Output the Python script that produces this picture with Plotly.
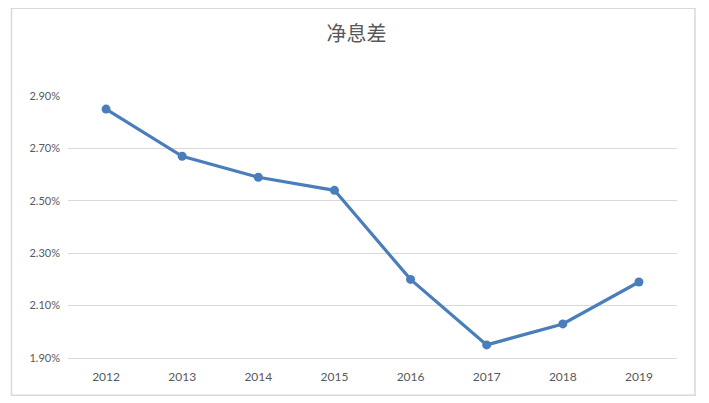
"""Net interest margin line chart, 2012-2019."""

import plotly.graph_objects as go

years = ["2012", "2013", "2014", "2015", "2016", "2017", "2018", "2019"]
nim = [2.85, 2.67, 2.59, 2.54, 2.20, 1.95, 2.03, 2.19]
y_ticks = [1.90, 2.10, 2.30, 2.50, 2.70, 2.90]
title_text = "净息差"

LINE_BLUE = "#4A7EBB"
GRID = "#D9D9D9"
TEXT = "#595959"


def main():
    fig = go.Figure(go.Scatter(
        x=years,
        y=nim,
        mode="lines+markers",
        line=dict(color=LINE_BLUE, width=3.2),
        marker=dict(color=LINE_BLUE, size=9),
        hovertemplate="%{x}: %{y:.2f}%<extra></extra>",
    ))

    # page body has an 8px margin, so the figure is sized to fill the rest
    fig.update_layout(
        width=701,
        height=395,
        margin=dict(l=60, r=32, t=88, b=45),
        paper_bgcolor="white",
        plot_bgcolor="white",
        showlegend=False,
        font=dict(family="Lato, Liberation Sans, sans-serif", size=11, color=TEXT),
        title=dict(
            text=title_text,
            x=0.497, xanchor="center",
            y=0.935, yanchor="middle",
            font=dict(family="Noto Sans CJK SC", size=20, color=TEXT),
        ),
        xaxis=dict(
            type="category",
            range=[-0.5, 7.5],
            showgrid=False,
            showline=True,
            linecolor=GRID,
            linewidth=1,
            ticks="",
            ticklabelstandoff=8,
            tickfont=dict(size=12),
            fixedrange=True,
        ),
        yaxis=dict(
            range=[1.90, 2.90],
            tickvals=y_ticks,
            ticktext=[f"{v:.2f}%" for v in y_ticks],
            showgrid=True,
            gridcolor=GRID,
            gridwidth=1,
            zeroline=False,
            showline=False,
            ticks="",
            ticklabelstandoff=7,
            fixedrange=True,
        ),
        shapes=[dict(
            type="rect", xref="paper", yref="paper",
            x0=-0.0928, x1=1.0296, y0=-0.1424, y1=1.3347,
            line=dict(color="#D9D9D9", width=1.5),
            fillcolor="rgba(0,0,0,0)",
            layer="below",
        )],
    )

    fig.write_html("out.html")


if __name__ == "__main__":
    main()
